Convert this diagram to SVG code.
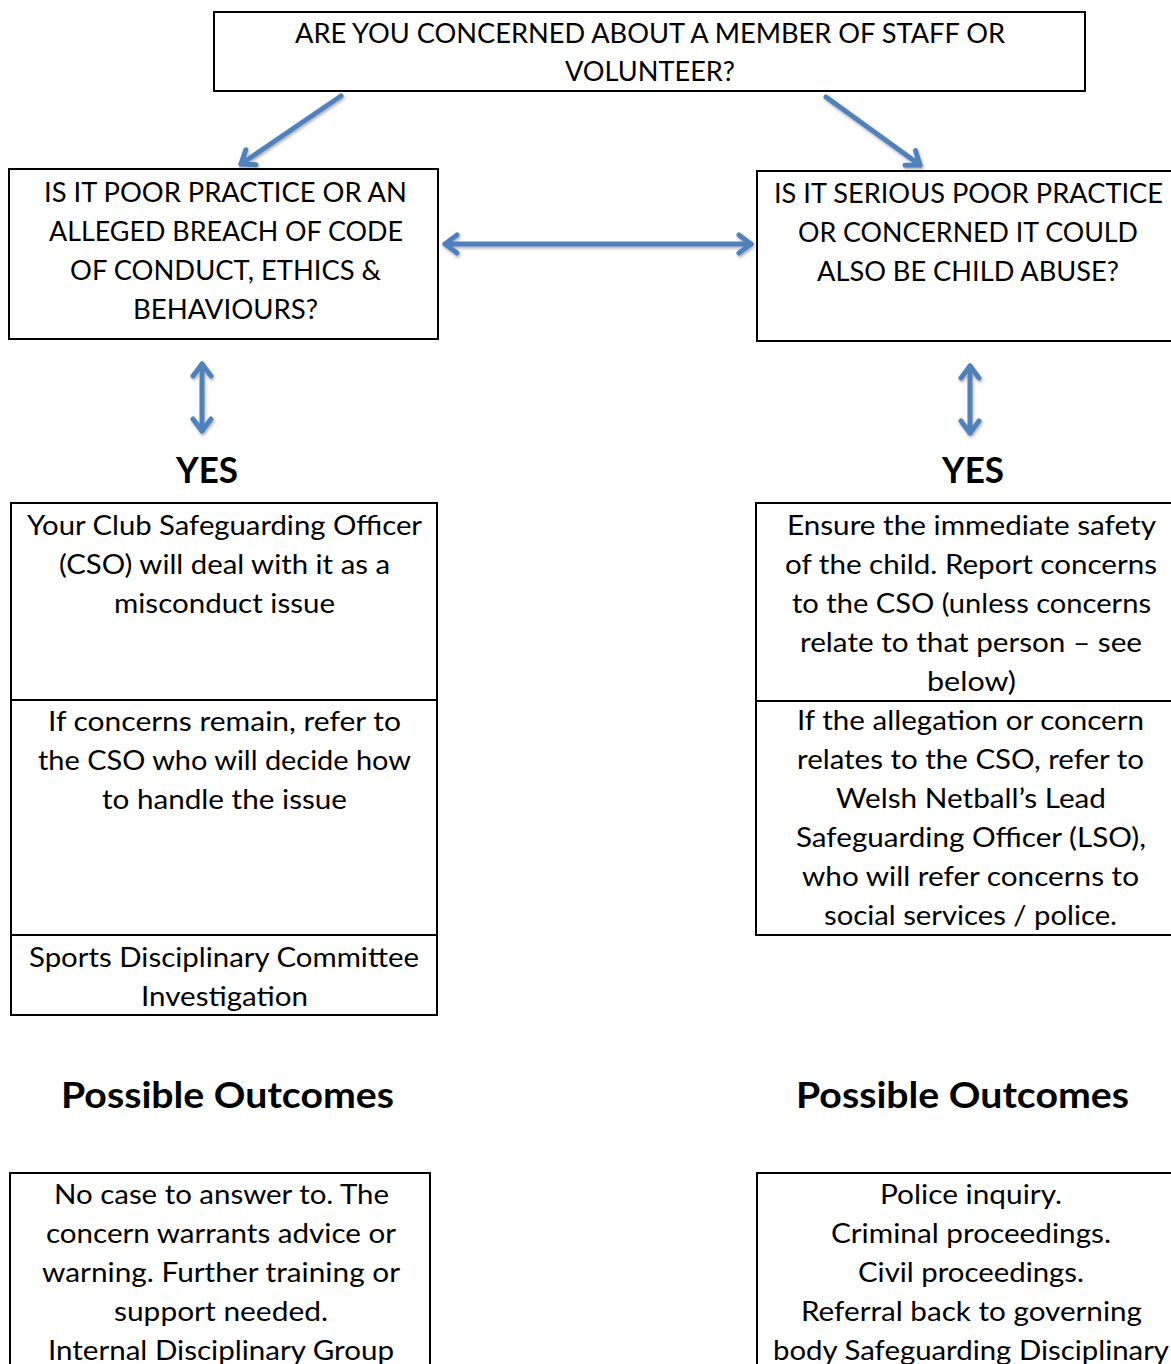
<svg xmlns="http://www.w3.org/2000/svg" width="1171" height="1364" viewBox="0 0 1171 1364">
<style>
.box{fill:#fff;stroke:#000;stroke-width:2}
.div{stroke:#000;stroke-width:2}
text{font-family:Lato,"Open Sans","Liberation Sans",sans-serif;font-size:27px;fill:#000;text-anchor:middle}
.hd{font-weight:bold;font-size:36px}
.conn{stroke:#4F81BD;stroke-width:5;stroke-linecap:round;fill:none}
</style>
<defs>
<marker id="ah" viewBox="0 0 24 24" refX="20" refY="12" markerWidth="24" markerHeight="24" markerUnits="userSpaceOnUse" orient="auto-start-reverse">
<polyline points="8,3 20,12 8,21" fill="none" stroke="#4F81BD" stroke-width="5" stroke-linecap="round" stroke-linejoin="round"/>
</marker>
<filter id="sh" x="-20%" y="-20%" width="140%" height="140%">
<feDropShadow dx="1" dy="2" stdDeviation="1.5" flood-color="#000" flood-opacity="0.3"/>
</filter>
</defs>
<rect width="1171" height="1364" fill="#fff"/>

<g id="connectors" filter="url(#sh)">
<line class="conn" x1="341" y1="96" x2="241" y2="164" marker-end="url(#ah)"/>
<line class="conn" x1="826" y1="97" x2="920" y2="165" marker-end="url(#ah)"/>
<line class="conn" x1="445" y1="244" x2="751" y2="244" marker-start="url(#ah)" marker-end="url(#ah)"/>
<line class="conn" x1="202" y1="364" x2="202" y2="431" marker-start="url(#ah)" marker-end="url(#ah)"/>
<line class="conn" x1="970" y1="366" x2="970" y2="433" marker-start="url(#ah)" marker-end="url(#ah)"/>
</g>

<g id="n-top">
<rect class="box" x="214" y="12" width="871" height="79"/>
<text x="650" y="43" textLength="710" lengthAdjust="spacingAndGlyphs">ARE YOU CONCERNED ABOUT A MEMBER OF STAFF OR</text>
<text x="650" y="81" textLength="170" lengthAdjust="spacingAndGlyphs">VOLUNTEER?</text>
</g>

<g id="n-poor-practice">
<rect class="box" x="9" y="169" width="429" height="170"/>
<text x="225.5" y="202" textLength="363" lengthAdjust="spacingAndGlyphs">IS IT POOR PRACTICE OR AN</text>
<text x="226" y="241" textLength="354" lengthAdjust="spacingAndGlyphs">ALLEGED BREACH OF CODE</text>
<text x="225.5" y="280" textLength="311" lengthAdjust="spacingAndGlyphs">OF CONDUCT, ETHICS &amp;</text>
<text x="225.5" y="319" textLength="185" lengthAdjust="spacingAndGlyphs">BEHAVIOURS?</text>
</g>

<g id="n-serious">
<rect class="box" x="757" y="171" width="418" height="170"/>
<text x="968.5" y="203" textLength="389" lengthAdjust="spacingAndGlyphs">IS IT SERIOUS POOR PRACTICE</text>
<text x="968" y="242" textLength="340" lengthAdjust="spacingAndGlyphs">OR CONCERNED IT COULD</text>
<text x="968" y="281" textLength="302" lengthAdjust="spacingAndGlyphs">ALSO BE CHILD ABUSE?</text>
</g>

<g id="yes-left"><text class="hd" x="207" y="483" textLength="62" lengthAdjust="spacingAndGlyphs">YES</text></g>
<g id="yes-right"><text class="hd" x="973" y="483" textLength="62" lengthAdjust="spacingAndGlyphs">YES</text></g>

<g id="n-left-steps">
<rect class="box" x="11" y="503" width="426" height="512"/>
<line class="div" x1="11" y1="700" x2="437" y2="700"/>
<line class="div" x1="11" y1="935" x2="437" y2="935"/>
<text x="224.5" y="535" textLength="395" lengthAdjust="spacingAndGlyphs">Your Club Safeguarding Officer</text>
<text x="224.5" y="574" textLength="331" lengthAdjust="spacingAndGlyphs">(CSO) will deal with it as a</text>
<text x="224.5" y="613" textLength="221" lengthAdjust="spacingAndGlyphs">misconduct issue</text>
<text x="224.5" y="731" textLength="353" lengthAdjust="spacingAndGlyphs">If concerns remain, refer to</text>
<text x="224.5" y="770" textLength="373" lengthAdjust="spacingAndGlyphs">the CSO who will decide how</text>
<text x="224.5" y="809" textLength="245" lengthAdjust="spacingAndGlyphs">to handle the issue</text>
<text x="224" y="967" textLength="390" lengthAdjust="spacingAndGlyphs">Sports Disciplinary Committee</text>
<text x="224.5" y="1006" textLength="167" lengthAdjust="spacingAndGlyphs">Investigation</text>
</g>

<g id="n-right-steps">
<rect class="box" x="756" y="503" width="419" height="432"/>
<line class="div" x1="756" y1="701" x2="1175" y2="701"/>
<text x="971.5" y="535" textLength="369" lengthAdjust="spacingAndGlyphs">Ensure the immediate safety</text>
<text x="971" y="574" textLength="372" lengthAdjust="spacingAndGlyphs">of the child. Report concerns</text>
<text x="971.5" y="613" textLength="359" lengthAdjust="spacingAndGlyphs">to the CSO (unless concerns</text>
<text x="971" y="652" textLength="342" lengthAdjust="spacingAndGlyphs">relate to that person – see</text>
<text x="971.5" y="691" textLength="89" lengthAdjust="spacingAndGlyphs">below)</text>
<text x="970.5" y="730" textLength="347" lengthAdjust="spacingAndGlyphs">If the allegation or concern</text>
<text x="970.5" y="769" textLength="347" lengthAdjust="spacingAndGlyphs">relates to the CSO, refer to</text>
<text x="971" y="808" textLength="270" lengthAdjust="spacingAndGlyphs">Welsh Netball’s Lead</text>
<text x="971" y="847" textLength="350" lengthAdjust="spacingAndGlyphs">Safeguarding Officer (LSO),</text>
<text x="970.5" y="886" textLength="337" lengthAdjust="spacingAndGlyphs">who will refer concerns to</text>
<text x="970.5" y="925" textLength="293" lengthAdjust="spacingAndGlyphs">social services / police.</text>
</g>

<g id="outcomes-left"><text class="hd" x="227.5" y="1108" textLength="333" lengthAdjust="spacingAndGlyphs">Possible Outcomes</text></g>
<g id="outcomes-right"><text class="hd" x="962.5" y="1108" textLength="333" lengthAdjust="spacingAndGlyphs">Possible Outcomes</text></g>

<g id="n-left-outcomes">
<rect class="box" x="10" y="1173" width="420" height="200"/>
<text x="221.5" y="1204" textLength="335" lengthAdjust="spacingAndGlyphs">No case to answer to. The</text>
<text x="221" y="1243" textLength="350" lengthAdjust="spacingAndGlyphs">concern warrants advice or</text>
<text x="221" y="1282" textLength="358" lengthAdjust="spacingAndGlyphs">warning. Further training or</text>
<text x="221" y="1321" textLength="214" lengthAdjust="spacingAndGlyphs">support needed.</text>
<text x="221" y="1360" textLength="346" lengthAdjust="spacingAndGlyphs">Internal Disciplinary Group</text>
</g>

<g id="n-right-outcomes">
<rect class="box" x="757" y="1173" width="418" height="200"/>
<text x="971" y="1204" textLength="182" lengthAdjust="spacingAndGlyphs">Police inquiry.</text>
<text x="971" y="1243" textLength="280" lengthAdjust="spacingAndGlyphs">Criminal proceedings.</text>
<text x="971" y="1282" textLength="226" lengthAdjust="spacingAndGlyphs">Civil proceedings.</text>
<text x="971.5" y="1321" textLength="341" lengthAdjust="spacingAndGlyphs">Referral back to governing</text>
<text x="971" y="1360" textLength="396" lengthAdjust="spacingAndGlyphs">body Safeguarding Disciplinary</text>
</g>
</svg>
